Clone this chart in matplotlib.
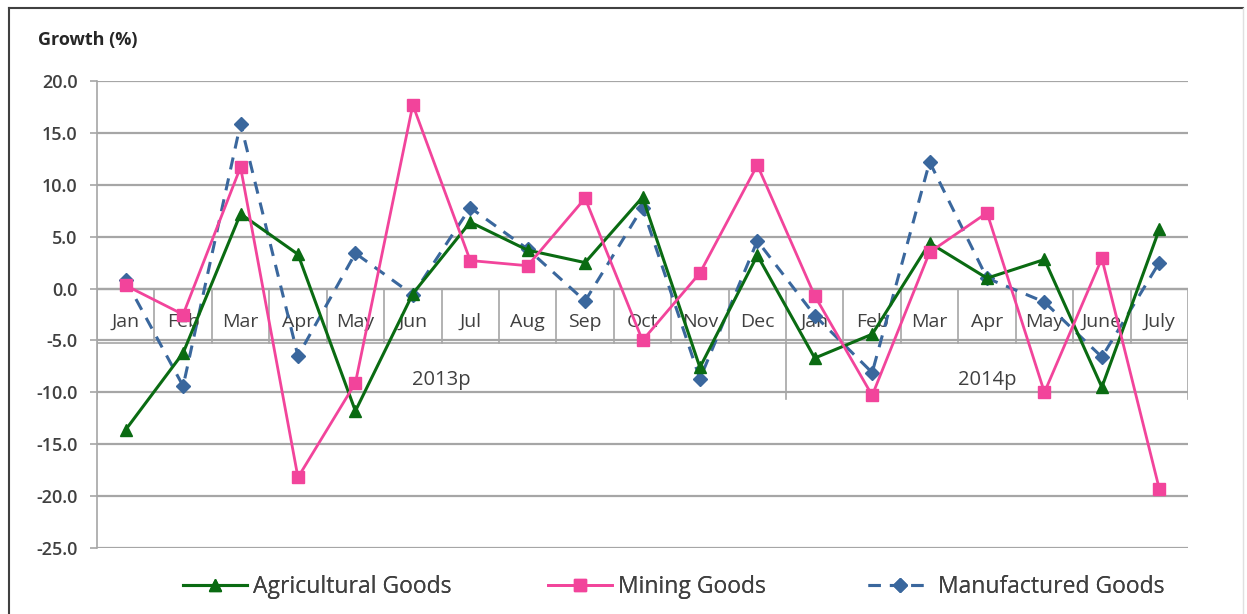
import matplotlib.pyplot as plt
from matplotlib.lines import Line2D

# Data
months = ["Jan", "Feb", "Mar", "Apr", "May", "Jun", "Jul", "Aug", "Sep", "Oct", "Nov", "Dec",
          "Jan", "Feb", "Mar", "Apr", "May", "June", "July"]
years = ["2013p", "2014p"]
months_per_year = [12, 7]

agricultural = [-13.6, -6.2, 7.2, 3.3, -11.8, -0.5, 6.4, 3.7, 2.5, 8.8, -7.6, 3.2,
                -6.7, -4.4, 4.4, 1.0, 2.8, -9.5, 5.7]
mining = [0.3, -2.5, 11.7, -18.2, -9.1, 17.7, 2.7, 2.2, 8.7, -5.0, 1.5, 11.9,
          -0.7, -10.3, 3.5, 7.3, -10.0, 2.9, -19.3]
manufactured = [0.8, -9.4, 15.9, -6.5, 3.4, -0.6, 7.8, 3.8, -1.2, 7.8, -8.7, 4.6,
                -2.6, -8.1, 12.2, 1.0, -1.3, -6.6, 2.5]

green = "#0a6b12"
pink = "#f2449b"
blue = "#3a679d"
grid_col = "#a6a6a6"
text_col = "#404040"

plt.rcParams['font.family'] = ['Open Sans', 'DejaVu Sans']

fig = plt.figure(figsize=(12.47, 6.14), dpi=100)
ax = fig.add_axes([97 / 1247, 1 - 548 / 614, (1188 - 97) / 1247, (548 - 81) / 614])

x = list(range(len(months)))
l1, = ax.plot(x, agricultural, color=green, lw=2.2, marker="^", ms=9, label="Agricultural Goods", zorder=4)
l2, = ax.plot(x, mining, color=pink, lw=2.0, marker="s", ms=8, label="Mining Goods", zorder=5)
l3, = ax.plot(x, manufactured, color=blue, lw=2.2, ls=(0, (4, 3)), marker="D", ms=7,
              label="Manufactured Goods", zorder=3)

ax.set_xlim(-0.5, len(months) - 0.5)
ax.set_ylim(-25, 20)
ax.set_yticks(range(-25, 21, 5))
ax.set_yticklabels([f"{v:.1f}" for v in range(-25, 21, 5)], fontsize=13, color=text_col,
                   fontweight="semibold")
ax.set_xticks([])
ax.yaxis.grid(True, color=grid_col, lw=1.6)
ax.set_axisbelow(True)
ax.tick_params(axis="y", length=5, color=grid_col, width=1.2, pad=9)
for s in ["top", "right", "bottom"]:
    ax.spines[s].set_visible(False)
ax.spines["left"].set_color(grid_col)
ax.spines["left"].set_linewidth(1.2)

# category axis at zero
ax.axhline(0, color=grid_col, lw=1.6, zorder=1)
row1 = -5.2
row2 = -10.6
for i, m in enumerate(months):
    ax.plot([i - 0.5, i - 0.5], [0, row1], color=grid_col, lw=1.2, zorder=1)
    ax.text(i, -3.2, m, ha="center", va="center", fontsize=14, color=text_col, zorder=2)
ax.plot([len(months) - 0.5] * 2, [0, row1], color=grid_col, lw=1.2, zorder=1)
ax.plot([-0.5, len(months) - 0.5], [row1, row1], color=grid_col, lw=1.2, zorder=1)

start = 0
for yr, n in zip(years, months_per_year):
    ax.plot([start - 0.5] * 2, [row1, row2], color=grid_col, lw=1.2, zorder=1)
    ax.text(start + (n - 1) / 2, -8.8, yr, ha="center", va="center", fontsize=14.5,
            color=text_col, zorder=2)
    start += n
ax.plot([start - 0.5] * 2, [row1, row2], color=grid_col, lw=1.2, zorder=1)

fig.text(38 / 1247, 1 - 40 / 614, "Growth (%)", fontsize=13, fontweight="bold",
         color="#262626", va="center")

# legend entries placed one by one, like the original
for line, left in zip([l1, l2, l3], [183, 548, 868]):
    leg = fig.legend(handles=[line], loc="center left",
                     bbox_to_anchor=(left / 1247, 1 - 587 / 614), frameon=False,
                     fontsize=16.5, handlelength=2.8, handletextpad=0.25,
                     labelcolor=text_col, borderaxespad=0, borderpad=0)
    fig.add_artist(leg)

# outer border
fig.add_artist(Line2D([9 / 1247, 9 / 1247], [0, 1 - 8 / 614], color="#404040", lw=1.5))
fig.add_artist(Line2D([9 / 1247, 1243 / 1247], [1 - 8 / 614, 1 - 8 / 614], color="#404040", lw=1.5))
fig.add_artist(Line2D([1243 / 1247, 1243 / 1247], [0, 1 - 8 / 614], color="#e0e0e0", lw=1.0))

fig.savefig("out.png", dpi=100)
